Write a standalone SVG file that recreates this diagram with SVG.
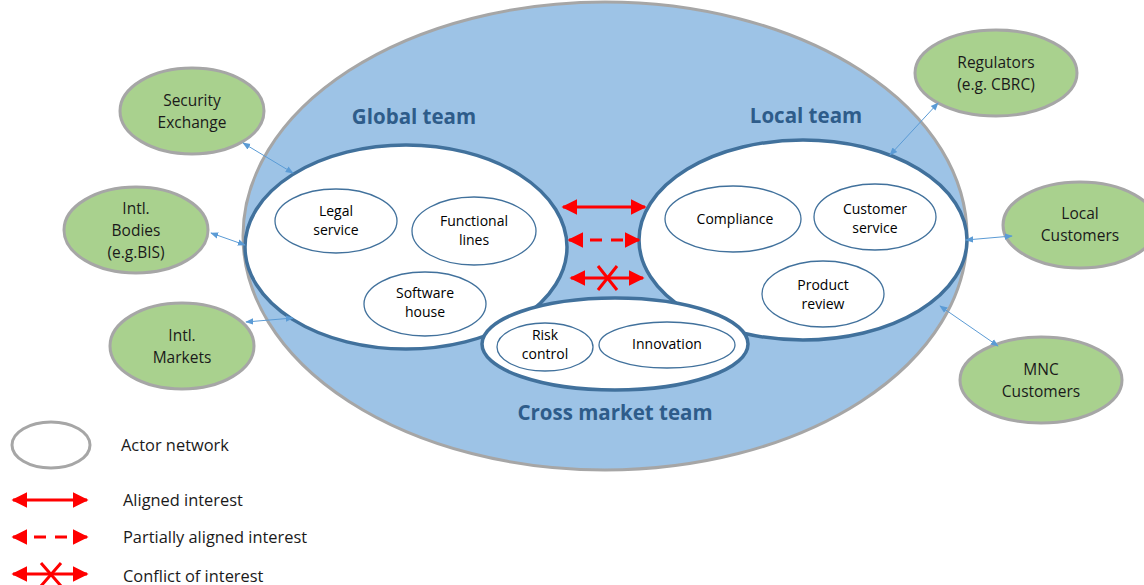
<svg xmlns="http://www.w3.org/2000/svg" width="1144" height="585" viewBox="0 0 1144 585">
<defs>
<marker id="ba" viewBox="0 0 10 10" refX="9" refY="5" markerWidth="8" markerHeight="8" orient="auto-start-reverse" markerUnits="userSpaceOnUse"><path d="M0,1 L10,5 L0,9 z" fill="#5B9BD5"/></marker>
<marker id="ra" viewBox="0 0 10 10" refX="9" refY="5" markerWidth="5.2" markerHeight="5.2" orient="auto-start-reverse"><path d="M0,0 L10,5 L0,10 z" fill="#FF0000"/></marker>
</defs>
<style>
.ext{fill:#A9D18E;stroke:#A6A6A6;stroke-width:3}
.team{fill:#FFFFFF;stroke:#41719C;stroke-width:3.5}
.act{fill:#FFFFFF;stroke:#41719C;stroke-width:1.3}
.t{font-family:"Open Sans","Liberation Sans",sans-serif;font-size:14px;fill:#000;text-anchor:middle}
.te{font-family:"Open Sans","Liberation Sans",sans-serif;font-size:15.5px;fill:#1a1a1a;text-anchor:middle}
.h{font-family:"Open Sans","Liberation Sans",sans-serif;font-size:20.5px;font-weight:bold;fill:#2E5C8A;text-anchor:middle}
.lg{font-family:"Open Sans","Liberation Sans",sans-serif;font-size:16.4px;fill:#1a1a1a}
.c{stroke:#5B9BD5;stroke-width:1;fill:none;marker-start:url(#ba);marker-end:url(#ba)}
.r{stroke:#FF0000;stroke-width:3;fill:none;marker-start:url(#ra);marker-end:url(#ra)}
.x{stroke:#FF0000;stroke-width:3;fill:none}
</style>
<rect width="1144" height="585" fill="#FFFFFF"/>
<g id="market">
<ellipse cx="605" cy="236" rx="362" ry="234" fill="#9DC3E6" stroke="#A6A6A6" stroke-width="3"/>
<text class="h" x="414" y="124">Global team</text>
<text class="h" x="806" y="123">Local team</text>
<text class="h" x="615" y="420">Cross market team</text>
</g>
<g id="global-team">
<ellipse class="team" cx="406" cy="247" rx="161" ry="102"/>
</g>
<g id="local-team">
<ellipse class="team" cx="803" cy="240" rx="164" ry="100"/>
</g>
<g id="cross-market-team">
<ellipse class="team" cx="615" cy="344" rx="133" ry="46"/>
</g>
<g id="legal-service"><ellipse class="act" cx="336" cy="221" rx="61" ry="32"/><text class="t" x="336" y="216">Legal</text><text class="t" x="336" y="235">service</text></g>
<g id="functional-lines"><ellipse class="act" cx="474" cy="231" rx="62" ry="34"/><text class="t" x="474" y="226">Functional</text><text class="t" x="474" y="245">lines</text></g>
<g id="software-house"><ellipse class="act" cx="425" cy="304" rx="61" ry="32"/><text class="t" x="425" y="298">Software</text><text class="t" x="425" y="317">house</text></g>
<g id="compliance"><ellipse class="act" cx="733" cy="219" rx="68" ry="33"/><text class="t" x="735" y="224">Compliance</text></g>
<g id="customer-service"><ellipse class="act" cx="875" cy="217" rx="61" ry="33"/><text class="t" x="875" y="214">Customer</text><text class="t" x="875" y="233">service</text></g>
<g id="product-review"><ellipse class="act" cx="823" cy="294" rx="61" ry="33"/><text class="t" x="823" y="290">Product</text><text class="t" x="823" y="309">review</text></g>
<g id="risk-control"><ellipse class="act" cx="545" cy="347" rx="48" ry="24"/><text class="t" x="545" y="340">Risk</text><text class="t" x="545" y="359">control</text></g>
<g id="innovation"><ellipse class="act" cx="667" cy="345" rx="68" ry="23"/><text class="t" x="667" y="349">Innovation</text></g>
<g id="security-exchange"><ellipse class="ext" cx="192" cy="111" rx="72" ry="43"/><text class="te" x="192" y="106">Security</text><text class="te" x="192" y="128">Exchange</text></g>
<g id="intl-bodies"><ellipse class="ext" cx="136" cy="230" rx="72" ry="43"/><text class="te" x="136" y="214">Intl.</text><text class="te" x="136" y="236">Bodies</text><text class="te" x="136" y="258">(e.g.BIS)</text></g>
<g id="intl-markets"><ellipse class="ext" cx="182" cy="346" rx="72" ry="43"/><text class="te" x="182" y="341">Intl.</text><text class="te" x="182" y="363">Markets</text></g>
<g id="regulators"><ellipse class="ext" cx="996" cy="73" rx="81" ry="43"/><text class="te" x="996" y="68">Regulators</text><text class="te" x="996" y="90">(e.g. CBRC)</text></g>
<g id="local-customers"><ellipse class="ext" cx="1080" cy="225" rx="77" ry="43"/><text class="te" x="1080" y="219">Local</text><text class="te" x="1080" y="241">Customers</text></g>
<g id="mnc-customers"><ellipse class="ext" cx="1041" cy="380" rx="81" ry="43"/><text class="te" x="1041" y="375">MNC</text><text class="te" x="1041" y="397">Customers</text></g>
<g id="connectors">
<line class="c" x1="243" y1="143" x2="293" y2="173"/>
<line class="c" x1="211" y1="233" x2="245" y2="245"/>
<line class="c" x1="246" y1="322" x2="293" y2="318"/>
<line class="c" x1="938" y1="103" x2="890" y2="155"/>
<line class="c" x1="1012" y1="236" x2="966" y2="240"/>
<line class="c" x1="998" y1="346" x2="940" y2="306"/>
<line class="r" x1="563" y1="207" x2="645" y2="207"/>
<line class="r" x1="569" y1="240" x2="639" y2="240" stroke-dasharray="12,9"/>
<line class="r" x1="571" y1="278" x2="643" y2="278"/>
<path class="x" d="M598,266 L617,290 M617,266 L598,290"/>
</g>
<g id="legend">
<ellipse cx="51" cy="445" rx="39" ry="23" fill="#FFFFFF" stroke="#A6A6A6" stroke-width="3"/>
<text class="lg" x="121" y="451">Actor network</text>
<line class="r" x1="13" y1="500" x2="87" y2="500"/>
<text class="lg" x="123" y="506">Aligned interest</text>
<line class="r" x1="13" y1="537" x2="87" y2="537" stroke-dasharray="12,9"/>
<text class="lg" x="123" y="543">Partially aligned interest</text>
<line class="r" x1="13" y1="574" x2="87" y2="574"/>
<path class="x" d="M41,563 L61,586 M61,563 L41,586"/>
<text class="lg" x="123" y="582">Conflict of interest</text>
</g>
</svg>
